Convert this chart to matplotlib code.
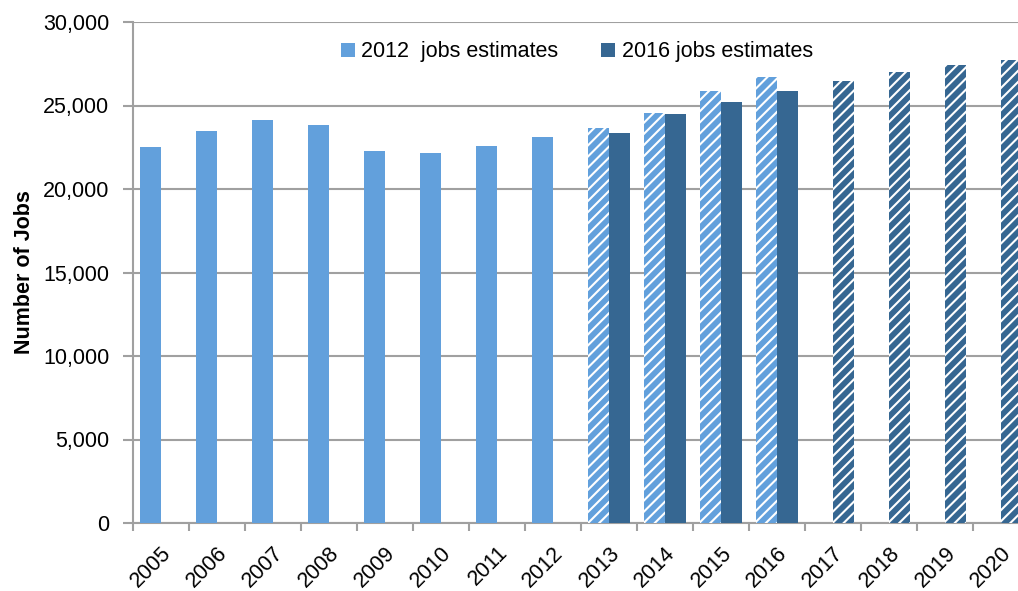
import matplotlib
matplotlib.use('Agg')
from matplotlib import pyplot as plt
from matplotlib import font_manager
from matplotlib import transforms
import numpy as np

years = ['2005', '2006', '2007', '2008', '2009', '2010', '2011', '2012',
         '2013', '2014', '2015', '2016', '2017', '2018', '2019', '2020']
est_2012 = [22500, 23500, 24120, 23850, 22300, 22150, 22600, 23100,
            23640, 24560, 25870, 26710, None, None, None, None]
est_2016 = [None, None, None, None, None, None, None, None,
            23350, 24520, 25180, 25850, 26470, 27010, 27450, 27750]
# first year that is a projection in each series
proj_2012 = '2013'
proj_2016 = '2017'

light = '#62a0dc'
dark = '#366792'

names = {f.name for f in font_manager.fontManager.ttflist}
if 'Liberation Sans Narrow' in names:
    plt.rcParams['font.family'] = ['Liberation Sans Narrow', 'DejaVu Sans']
    fs = 18
else:
    plt.rcParams['font.family'] = ['Liberation Sans', 'DejaVu Sans']
    fs = 15.5
plt.rcParams['hatch.linewidth'] = 1.5

fig = plt.figure(figsize=(10.18, 5.91), dpi=100)
ax = fig.add_axes([133 / 1018, 68 / 591, 896 / 1018, 501 / 591])

x = np.arange(len(years))
w = 0.375

for i, yr in enumerate(years):
    v = est_2012[i]
    if v is not None:
        if yr >= proj_2012:
            ax.bar(x[i] - w / 2, v, w, color=light, hatch='///', edgecolor='white', linewidth=0, zorder=3)
        else:
            ax.bar(x[i] - w / 2, v, w, color=light, linewidth=0, zorder=3)
    v = est_2016[i]
    if v is not None:
        if yr >= proj_2016:
            ax.bar(x[i] + w / 2, v, w, color=dark, hatch='///', edgecolor='white', linewidth=0, zorder=3)
        else:
            ax.bar(x[i] + w / 2, v, w, color=dark, linewidth=0, zorder=3)

# legend proxies
ax.bar([0], [0], color=light, label='2012  jobs estimates')
ax.bar([0], [0], color=dark, label='2016 jobs estimates')

ax.set_xlim(-0.5, len(years) - 0.5)
ax.set_ylim(0, 30000)
ax.set_yticks(range(0, 30001, 5000))
ax.set_yticklabels([f'{v:,}' for v in range(0, 30001, 5000)], fontsize=fs)
ax.set_xticks(x)
ax.set_xticklabels(years, rotation=45, ha='right', va='top', fontsize=fs,
                   rotation_mode='anchor')
shift = transforms.ScaledTranslation(5 / 100, 0, fig.dpi_scale_trans)
for lab in ax.get_xticklabels():
    lab.set_transform(lab.get_transform() + shift)
ax.set_xticks(np.arange(-0.5, len(years), 1), minor=True)
ax.tick_params(axis='x', which='major', length=0, pad=14)
ax.tick_params(axis='x', which='minor', length=6, color='#a0a0a0', width=1.5)
ax.tick_params(axis='y', length=7, color='#a0a0a0', width=1.5, pad=10)

ax.grid(axis='y', color='#a0a0a0', linewidth=1.5, zorder=0)
ax.set_axisbelow(True)
for s in ['top', 'right']:
    ax.spines[s].set_visible(False)
for s in ['left', 'bottom']:
    ax.spines[s].set_color('#a0a0a0')
    ax.spines[s].set_linewidth(1.5)

ax.set_ylabel('Number of Jobs', fontsize=fs, fontweight='bold', labelpad=6)

ax.legend(loc='upper left', bbox_to_anchor=(0.21, 1.0), ncol=2, frameon=False,
          fontsize=fs, handlelength=0.65, handleheight=0.65, handletextpad=0.3,
          columnspacing=2.0)

plt.savefig('out.png', dpi=100)
